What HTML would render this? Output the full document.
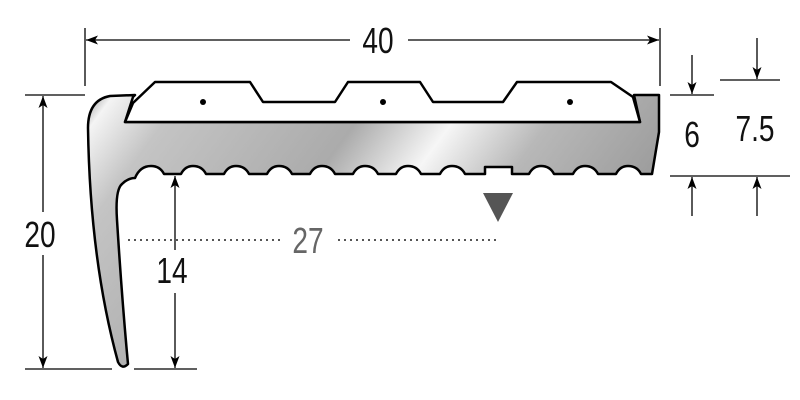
<!DOCTYPE html>
<html><head><meta charset="utf-8"><style>
html,body{margin:0;padding:0;background:#fff;}
svg{display:block}
text{font-family:"Liberation Sans Narrow","Liberation Sans",sans-serif;}
</style></head><body>
<svg width="800" height="400" viewBox="0 0 800 400" xmlns="http://www.w3.org/2000/svg">
<defs>
<linearGradient id="g" x1="0" y1="0" x2="1" y2="0.35">
<stop offset="0" stop-color="#9a9a9a"/>
<stop offset="0.04" stop-color="#f4f4f4"/>
<stop offset="0.15" stop-color="#c4c4c4"/>
<stop offset="0.45" stop-color="#ababab"/>
<stop offset="0.6" stop-color="#f6f6f6"/>
<stop offset="0.75" stop-color="#b8b8b8"/>
<stop offset="1" stop-color="#999"/>
</linearGradient>
<marker id="a" viewBox="0 0 12 10" refX="12" refY="5" markerWidth="12" markerHeight="10" orient="auto-start-reverse" markerUnits="userSpaceOnUse">
<path d="M0,0.5 L12,5 L0,9.5 L3,5 z" fill="#000"/></marker>
</defs>
<path fill="url(#g)" stroke="#000" stroke-width="2.5" stroke-linejoin="round" d="
M135,95 L110,96 Q88,100 88,128 Q90,260 118,362 Q122,370 128,364 Q122,300 117,220 Q115,190 122,184 Q128,178 135,178
Q140,166 151,166 Q160,166 164,174
L181,174 Q185,166 193,166 Q202,166 206,174
L224,174 Q228,166 236,166 Q245,166 249,174
L267,174 Q271,166 279,166 Q288,166 292,174
L310,174 Q314,166 322,166 Q331,166 335,174
L353,174 Q357,166 365,166 Q374,166 378,174
L396,174 Q400,166 408,166 Q417,166 421,174
L440,174 Q444,166 452,166 Q461,166 465,174
L485,174 L485,167 L512,167 L512,174
L529,174 Q533,166 541,166 Q550,166 554,174
L573,174 Q577,166 585,166 Q594,166 598,174
L616,174 Q620,166 628,166 Q637,166 641,174
L652,174 L659,132 L659,95 L634,95 L640,122 L125,122 L133,97 Z"/>
<path fill="#fff" stroke="#000" stroke-width="2.5" stroke-linejoin="round" d="M125,122 L133,103 L155,82 L250,82 L263,102 L335,102 L348,82 L420,82 L433,102 L503,102 L517,82 L611,82 L633,97 L640,122 Z"/>
<circle cx="203" cy="102" r="3" fill="#000"/>
<circle cx="383" cy="102" r="3" fill="#000"/>
<circle cx="570" cy="102" r="3" fill="#000"/>
<g stroke="#000" stroke-width="1.3" fill="none">
<line x1="85" y1="28" x2="85" y2="86"/>
<line x1="660" y1="28" x2="660" y2="86"/>
<line x1="86" y1="40" x2="350" y2="40" marker-start="url(#a)"/>
<line x1="408" y1="40" x2="659" y2="40" marker-end="url(#a)"/>
<line x1="25" y1="95" x2="85" y2="95"/>
<line x1="25" y1="369" x2="112" y2="369"/>
<line x1="43" y1="96" x2="43" y2="212" marker-start="url(#a)"/>
<line x1="43" y1="255" x2="43" y2="368" marker-end="url(#a)"/>
<line x1="134" y1="369" x2="197" y2="369"/>
<line x1="175" y1="176" x2="175" y2="250" marker-start="url(#a)"/>
<line x1="175" y1="293" x2="175" y2="368" marker-end="url(#a)"/>
<line x1="670" y1="95" x2="714" y2="95"/>
<line x1="720" y1="80" x2="780" y2="80"/>
<line x1="670" y1="176" x2="790" y2="176"/>
<line x1="692" y1="55" x2="692" y2="94" marker-end="url(#a)"/>
<line x1="692" y1="216" x2="692" y2="177" marker-end="url(#a)"/>
<line x1="757" y1="38" x2="757" y2="79" marker-end="url(#a)"/>
<line x1="757" y1="216" x2="757" y2="177" marker-end="url(#a)"/>
</g>
<line x1="128" y1="240" x2="282" y2="240" stroke="#555" stroke-width="2" stroke-dasharray="2,4"/>
<line x1="338" y1="240" x2="497" y2="240" stroke="#555" stroke-width="2" stroke-dasharray="2,4"/>
<path d="M483,193 L513,193 L498,222 Z" fill="#555"/>
<g font-size="36" text-anchor="middle" fill="#111">
<text transform="translate(378,53) scale(0.78,1)">40</text>
<text transform="translate(40,247) scale(0.78,1)">20</text>
<text transform="translate(172,283) scale(0.78,1)">14</text>
<text transform="translate(692,147) scale(0.78,1)">6</text>
<text transform="translate(755,141) scale(0.78,1)">7.5</text>
<text transform="translate(308,253) scale(0.78,1)" fill="#666">27</text>
</g>
</svg>
</body></html>
